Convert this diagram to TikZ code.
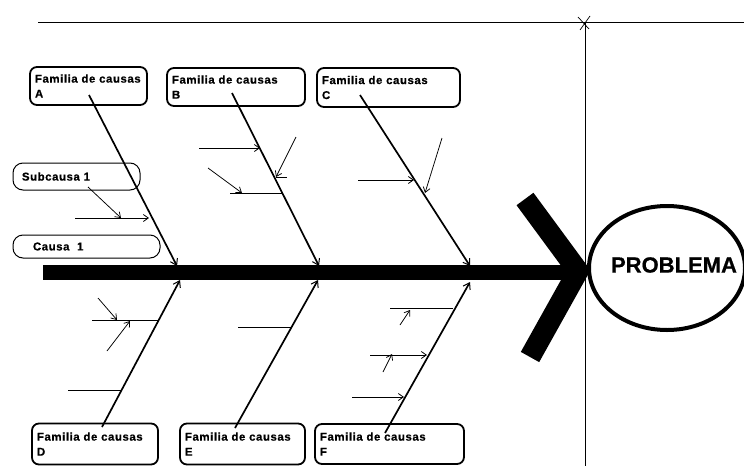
\documentclass[tikz,border=0pt]{standalone}
\usepackage{fontspec}
\setmainfont{Liberation Sans}[BoldFont={Liberation Sans Bold}]
\newfontfamily\lblfont{Liberation Sans Bold}[LetterSpace=5,FakeBold=0.6]
\newfontfamily\probfont{Liberation Sans Bold}[FakeBold=0.6]
\usetikzlibrary{arrows.meta,shapes.geometric}
\begin{document}
\begin{tikzpicture}[x=1pt,y=-1pt,
  fambox/.style={draw, line width=1.8pt, rounded corners=7pt, rectangle,
    inner xsep=5pt, inner ysep=0pt, align=left,
    font=\lblfont\fontsize{11.4}{15}\selectfont},
  subbox/.style={draw, line width=1pt, rounded corners=10pt, rectangle,
    inner ysep=0pt, align=left,
    font=\lblfont\fontsize{11.4}{13}\selectfont},
  bone/.style={line width=1.7pt, -{Straight Barb[length=6pt,width=8pt,line width=1pt]}},
  twig/.style={line width=1pt},
  twigarrow/.style={line width=1pt, -{Straight Barb[length=5pt,width=7pt,line width=0.8pt]}},
  thin/.style={line width=0.75pt, -{Straight Barb[length=5pt,width=7pt,line width=0.75pt]}}
]
\useasboundingbox (0,0) rectangle (744,466);
\fill[white] (0,0) rectangle (744,466);

% frame lines
\coordinate (tl) at (38,22);
\coordinate (tr) at (744,22);
\coordinate (vt) at (585,22);
\coordinate (vb) at (585,466);
\draw[line width=0.9pt] (tl) -- (tr);
\draw[line width=0.9pt] (vt) -- (vb);
\draw[line width=0.7pt] (578,17) -- (589,29) (590,16) -- (580,30);

% problem
\node[draw, ellipse, line width=4pt, minimum width=156pt, minimum height=124pt,
      inner sep=0pt] (prob) at (667,268) {};
\node[font=\probfont\fontsize{22}{24}\selectfont, anchor=center] (probtxt) at (674,265) {PROBLEMA};

% spine
\coordinate (s0) at (43,272);
\coordinate (s1) at (572,272);
\draw[line width=15pt] (s0) -- (s1);
\coordinate (h1) at (525,199);
\coordinate (htip) at (578,271);
\coordinate (h2) at (530,357);
\draw[line width=21pt, line join=miter] (h1) -- (htip) -- (h2);

% family boxes
\node[fambox, minimum width=117pt, minimum height=38pt, text width=107pt] (A) at (88.5,86) {Familia de causas\\A};
\node[fambox, minimum width=138pt, minimum height=38pt, text width=128pt] (B) at (236,87) {Familia de causas\\B};
\node[fambox, minimum width=143pt, minimum height=39pt, text width=133pt] (C) at (388.5,87.5) {Familia de causas\\C};
\node[fambox, minimum width=126pt, minimum height=41pt, text width=116pt] (D) at (95,444) {Familia de causas\\D};
\node[fambox, minimum width=125pt, minimum height=41pt, text width=115pt] (E) at (242.5,444) {Familia de causas\\E};
\node[fambox, minimum width=149pt, minimum height=40pt, text width=139pt] (F) at (389.5,444) {Familia de causas\\F};

\node[subbox, minimum width=127pt, minimum height=27pt, inner xsep=9pt, text width=109pt] (sub) at (76.5,176.5) {Subcausa 1};
\node[subbox, minimum width=147pt, minimum height=23pt, inner xsep=20pt, text width=107pt] (cau) at (86.5,246.5) {Causa\ \ 1};

% bone end points
\coordinate (a0) at (89,95);   \coordinate (a1) at (177,266);
\coordinate (b0) at (232,93);  \coordinate (b1) at (319,266);
\coordinate (c0) at (360,95);  \coordinate (c1) at (470,266);
\coordinate (d0) at (102,427); \coordinate (d1) at (180,280);
\coordinate (e0) at (235,428); \coordinate (e1) at (318,280);
\coordinate (f0) at (385,433); \coordinate (f1) at (470,282);

\draw[bone] (a0) -- (a1);
\draw[bone] (b0) -- (b1);
\draw[bone] (c0) -- (c1);
\draw[bone] (d0) -- (d1);
\draw[bone] (e0) -- (e1);
\draw[bone] (f0) -- (f1);

% twigs A
\coordinate (ta0) at (75,218);  \coordinate (ta1) at (149,218);
\draw[twigarrow] (ta0) -- (ta1);
\coordinate (sa0) at (88,187);  \coordinate (sa1) at (121,218);
\draw[thin] (sa0) -- (sa1);

% twigs B
\coordinate (tb0) at (199,148); \coordinate (tb1) at (260,148);
\draw[twigarrow] (tb0) -- (tb1);
\coordinate (sb0) at (296,137); \coordinate (sb1) at (276,177);
\draw[thin] (sb0) -- (sb1);
\coordinate (sb2) at (276,177); \coordinate (sb3) at (287,177);
\draw[line width=0.6pt] (sb2) -- (sb3);
\coordinate (sb4) at (208,168); \coordinate (sb5) at (242,193);
\draw[thin] (sb4) -- (sb5);
\coordinate (tb2) at (230,193); \coordinate (tb3) at (282,193);
\draw[twig] (tb2) -- (tb3);

% twigs C
\coordinate (tc0) at (358,180); \coordinate (tc1) at (414,180);
\draw[twigarrow] (tc0) -- (tc1);
\coordinate (sc0) at (442,138); \coordinate (sc1) at (425,193);
\draw[thin] (sc0) -- (sc1);

% twigs D
\coordinate (td0) at (92,320);  \coordinate (td1) at (158,320);
\draw[twig] (td0) -- (td1);
\coordinate (sd0) at (98,298);  \coordinate (sd1) at (117,320);
\draw[thin] (sd0) -- (sd1);
\coordinate (sd2) at (107,351); \coordinate (sd3) at (130,321);
\draw[thin] (sd2) -- (sd3);
\coordinate (td2) at (68,390);  \coordinate (td3) at (121,390);
\draw[twig] (td2) -- (td3);

% twigs E
\coordinate (te0) at (238,327); \coordinate (te1) at (291,327);
\draw[twig] (te0) -- (te1);

% twigs F
\coordinate (tf0) at (390,308); \coordinate (tf1) at (453,308);
\draw[twig] (tf0) -- (tf1);
\coordinate (sf0) at (400,325); \coordinate (sf1) at (410,310);
\draw[thin] (sf0) -- (sf1);
\coordinate (tf2) at (370,355); \coordinate (tf3) at (427,355);
\draw[twigarrow] (tf2) -- (tf3);
\coordinate (sf2) at (383,372); \coordinate (sf3) at (392,354);
\draw[thin] (sf2) -- (sf3);
\coordinate (tf4) at (352,397); \coordinate (tf5) at (404,397);
\draw[twigarrow] (tf4) -- (tf5);
\end{tikzpicture}
\end{document}
